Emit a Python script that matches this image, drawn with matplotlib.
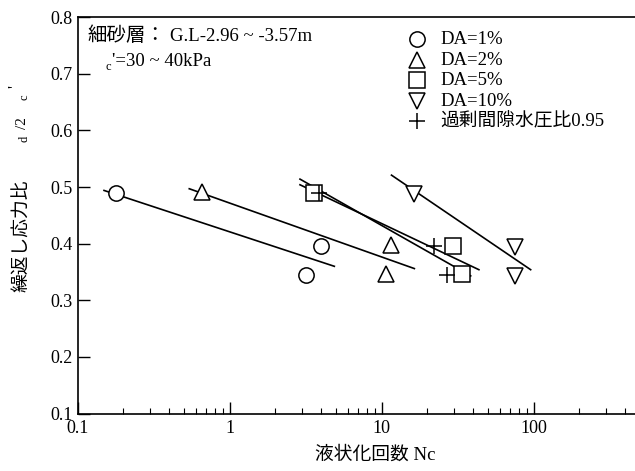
import matplotlib
matplotlib.use("Agg")
import matplotlib.pyplot as plt
from matplotlib.ticker import LogLocator, NullFormatter

# measured points (Nc, stress ratio)
nc_da1 = [0.179, 3.97, 3.19]
sr_da1 = [0.489, 0.395, 0.345]
nc_da2 = [0.661, 11.6, 10.7]
sr_da2 = [0.491, 0.398, 0.347]
nc_da5 = [3.6, 29.6, 33.6]
sr_da5 = [0.489, 0.395, 0.346]
nc_da10 = [16.4, 75.3, 75.3]
sr_da10 = [0.487, 0.394, 0.3425]
nc_u95 = [3.89, 22.1, 26.8]
sr_u95 = [0.489, 0.395, 0.344]

# fitted lines, read at both ends
fit1_nc, fit1_sr = [0.149, 4.88], [0.494, 0.360]
fit2_nc, fit2_sr = [0.542, 16.4], [0.497, 0.356]
fit5_nc, fit5_sr = [2.90, 38.5], [0.514, 0.343]
fitu_nc, fitu_sr = [2.90, 43.6], [0.504, 0.354]
fit10_nc, fit10_sr = [11.6, 95.5], [0.521, 0.354]

xticks = [0.1, 1, 10, 100, 1000]
xticklabels = ["0.1", "1", "10", "100", ""]
yticks = [0.1, 0.2, 0.3, 0.4, 0.5, 0.6, 0.7, 0.8]
yticklabels = ["0.1", "0.2", "0.3", "0.4", "0.5", "0.6", "0.7", "0.8"]

legend_labels = ["DA=1%", "DA=2%", "DA=5%", "DA=10%", "過剰間隙水圧比0.95"]
legend_markers = ["o", "^", "s", "v", "+"]

W, H = 635, 471
SERIF = "Liberation Serif"
JP = "Noto Sans CJK JP"
MIX = [SERIF, JP]


def fx(px):
    return px / W


def fy(py):
    return 1 - py / H


fig = plt.figure(figsize=(W / 100, H / 100), dpi=100)
# axes runs past the right edge of the figure (up to Nc=1000)
ax = fig.add_axes([fx(77.7), fy(413.5), 608 / W, (413.5 - 17.2) / H])

for xs, ys in [(fit1_nc, fit1_sr), (fit2_nc, fit2_sr), (fit5_nc, fit5_sr),
               (fitu_nc, fitu_sr), (fit10_nc, fit10_sr)]:
    ax.plot(xs, ys, color="black", lw=1.2, zorder=2)

mk = dict(ls="none", color="black", mfc="white", mew=1.1, ms=11, zorder=3)
ax.plot(nc_da1, sr_da1, marker="o", **mk)
ax.plot(nc_da2, sr_da2, marker="^", **mk)
ax.plot(nc_da5, sr_da5, marker="s", **mk)
ax.plot(nc_da10, sr_da10, marker="v", **mk)
ax.plot(nc_u95, sr_u95, marker="+", ls="none", color="black", mew=1.1, ms=12, zorder=4)

ax.set_xscale("log")
ax.set_xlim(0.1, 1000)
ax.set_ylim(0.1, 0.8)
ax.set_xticks(xticks)
ax.set_xticklabels(xticklabels)
ax.xaxis.set_minor_locator(LogLocator(base=10, subs=range(2, 10)))
ax.xaxis.set_minor_formatter(NullFormatter())
ax.set_yticks(yticks)
ax.set_yticklabels(yticklabels)
ax.tick_params(which="major", direction="in", length=8.6, width=1.0, pad=3.5,
               top=False, right=False)
ax.tick_params(axis="x", which="major", pad=5)
ax.tick_params(which="minor", direction="in", length=4, width=0.8, top=False, right=False)
for lab in ax.get_xticklabels() + ax.get_yticklabels():
    lab.set_fontfamily(SERIF)
    lab.set_fontsize(13)
for s in ax.spines.values():
    s.set_linewidth(1.2)

# x label
fig.text(fx(375), fy(455), "液状化回数 Nc", family=MIX, fontsize=13.5,
         ha="center", va="center")

# y label (sigma glyphs are missing in the original)
fig.text(fx(22), fy(235.5), "繰返し応力比", family=JP, fontsize=13.5,
         rotation=90, ha="center", va="center")
fig.text(fx(25), fy(139), "d", family=SERIF, fontsize=9, rotation=90,
         ha="center", va="center")
fig.text(fx(22), fy(123), "/2", family=SERIF, fontsize=11, rotation=90,
         ha="center", va="center")
fig.text(fx(25), fy(97), "c", family=SERIF, fontsize=9, rotation=90,
         ha="center", va="center")
fig.text(fx(15), fy(87), "'", family=SERIF, fontsize=12, rotation=90,
         ha="center", va="center")

# annotation top-left
fig.text(fx(87), fy(41), "細砂層：", family=JP, fontsize=14, ha="left", va="baseline")
fig.text(fx(170), fy(41), "G.L-2.96 ~ -3.57m", family=SERIF, fontsize=13.5,
         ha="left", va="baseline")
fig.text(fx(105), fy(70), "c", family=SERIF, fontsize=9, ha="left", va="baseline")
fig.text(fx(112), fy(66), "'=30 ~ 40kPa", family=SERIF, fontsize=13.5,
         ha="left", va="baseline")

# legend drawn by hand
rows = [39, 59.5, 79.5, 101, 120.5]
for lab, m, ry in zip(legend_labels, legend_markers, rows):
    if m == "+":
        ax.plot([fx(417)], [fy(ry)], marker=m, ls="none", color="black", mew=1.1,
                ms=12, transform=fig.transFigure, clip_on=False)
    else:
        ax.plot([fx(417)], [fy(ry)], marker=m, ls="none", color="black", mfc="white",
                mew=1.1, ms=11, transform=fig.transFigure, clip_on=False)
    fig.text(fx(440), fy(ry + 1), lab, family=MIX, fontsize=13.5, ha="left", va="center")

fig.savefig("out.png", dpi=100)
